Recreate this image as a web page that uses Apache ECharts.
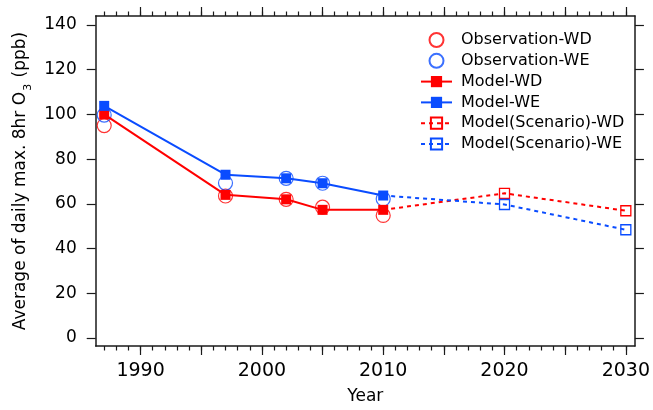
<!DOCTYPE html>
<html>
<head>
<meta charset="utf-8">
<script src="https://cdn.jsdelivr.net/npm/echarts@6/dist/echarts.min.js"></script>
<style>
  html, body { margin: 0; padding: 0; background: #fff; }
  #chart { width: 653px; height: 410px; }
</style>
</head>
<body>
<div id="chart"></div>
<script>
// Observed and modelled ozone, weekday (WD) vs weekend (WE)
const years = [1987, 1997, 2002, 2005, 2010];
const obsWD = [95, 63.5, 62, 58.5, 54.8];
const obsWE = [99.7, 69.3, 71.4, 69.2, 62.2];
const modelWD = [100, 64, 62, 57.3, 57.3];
const modelWE = [103.8, 73, 71.4, 69.2, 63.7];

const scenarioYears = [2010, 2020, 2030];
const scenarioWD = [57.3, 64.7, 56.9];
const scenarioWE = [63.7, 59.7, 48.4];

const xLabelYears = [1990, 2000, 2010, 2020, 2030];
const xMajorTicks = [1990, 1995, 2000, 2005, 2010, 2015, 2020, 2025, 2030];
const xMinorTicks = [];
for (let y = 1987; y <= 2030; y++) xMinorTicks.push(y);
const yTicks = [0, 20, 40, 60, 80, 100, 120, 140];

const RED = '#ff0000';
const BLUE = '#0a4cff';
const FONT = 'DejaVu Sans';
const AXIS_COLOR = '#1a1a1a';

const pairs = (xs, ys) => xs.map((x, i) => [x, ys[i]]);

function scenarioData(ys) {
  // first point joins the model curve; its marker is hidden
  return scenarioYears.map((x, i) =>
    i === 0 ? { value: [x, ys[i]], symbol: 'none' } : [x, ys[i]]);
}

const X_MIN = 1986.3, X_MAX = 2030.75;
const Y_MIN = -3.6, Y_MAX = 144;

function xAxis(position, ticks, len, showLine, showLabels) {
  return {
    type: 'value', position, min: X_MIN, max: X_MAX,
    splitLine: { show: false },
    axisLine: { show: showLine, onZero: false, lineStyle: { color: AXIS_COLOR, width: 1.5 } },
    axisTick: { show: true, customValues: ticks, length: len, lineStyle: { color: AXIS_COLOR, width: 1.2 } },
    axisLabel: showLabels
      ? { show: true, customValues: xLabelYears, formatter: v => String(v),
          margin: 16, fontSize: 19, fontFamily: FONT, color: '#000' }
      : { show: false }
  };
}

const option = {
  animation: false,
  backgroundColor: '#fff',
  grid: { left: 95.7, right: 17.3, top: 16, bottom: 62, containLabel: false },
  legend: {
    orient: 'vertical',
    left: 415,
    top: 27,
    itemWidth: 31,
    itemHeight: 14,
    itemGap: 4.8,
    textStyle: { fontSize: 16, fontFamily: FONT, color: '#000', lineHeight: 14, padding: [0, 0, 0, 4] },
    data: ['Observation-WD', 'Observation-WE', 'Model-WD', 'Model-WE',
           'Model(Scenario)-WD', 'Model(Scenario)-WE']
  },
  xAxis: [
    Object.assign(xAxis('bottom', xMajorTicks, 9, true, true), {
      name: 'Year', nameLocation: 'middle', nameGap: 42,
      nameTextStyle: { fontSize: 17, fontFamily: FONT, color: '#000' }
    }),
    xAxis('bottom', xMinorTicks, 4.5, false, false),
    xAxis('top', xMajorTicks, 9, true, false),
    xAxis('top', xMinorTicks, 4.5, false, false)
  ],
  yAxis: [
    {
      type: 'value', position: 'left', min: Y_MIN, max: Y_MAX,
      splitLine: { show: false },
      axisLine: { show: true, onZero: false, lineStyle: { color: AXIS_COLOR, width: 1.5 } },
      axisTick: { show: true, customValues: yTicks, length: 9, lineStyle: { color: AXIS_COLOR, width: 1.2 } },
      axisLabel: { customValues: yTicks, margin: 19, fontSize: 17, fontFamily: FONT, color: '#000' },
      name: 'Average of daily max. 8hr O{sub|3} (ppb)',
      nameLocation: 'middle',
      nameGap: 65,
      nameTextStyle: {
        fontSize: 17, fontFamily: FONT, color: '#000',
        rich: { sub: { fontSize: 11, fontFamily: FONT, color: '#000', verticalAlign: 'bottom', padding: [0, 1, -4, 1] } }
      }
    },
    {
      type: 'value', position: 'right', min: Y_MIN, max: Y_MAX,
      splitLine: { show: false },
      axisLine: { show: true, onZero: false, lineStyle: { color: AXIS_COLOR, width: 1.5 } },
      axisTick: { show: true, customValues: yTicks, length: 9, lineStyle: { color: AXIS_COLOR, width: 1.2 } },
      axisLabel: { show: false }
    }
  ],
  series: [
    {
      name: 'Observation-WD', type: 'scatter', z: 2,
      symbol: 'circle', symbolSize: 14,
      itemStyle: { color: 'transparent', borderColor: RED, borderWidth: 1.2 },
      data: pairs(years, obsWD)
    },
    {
      name: 'Observation-WE', type: 'scatter', z: 2,
      symbol: 'circle', symbolSize: 14,
      itemStyle: { color: 'transparent', borderColor: BLUE, borderWidth: 1.2 },
      data: pairs(years, obsWE)
    },
    {
      name: 'Model(Scenario)-WD', type: 'line', z: 3,
      symbol: 'rect', symbolSize: 10,
      lineStyle: { color: RED, width: 2, type: [4, 4] },
      itemStyle: { color: 'transparent', borderColor: RED, borderWidth: 1.3 },
      data: scenarioData(scenarioWD)
    },
    {
      name: 'Model(Scenario)-WE', type: 'line', z: 3,
      symbol: 'rect', symbolSize: 10,
      lineStyle: { color: BLUE, width: 2, type: [4, 4] },
      itemStyle: { color: 'transparent', borderColor: BLUE, borderWidth: 1.3 },
      data: scenarioData(scenarioWE)
    },
    {
      name: 'Model-WD', type: 'line', z: 4,
      symbol: 'rect', symbolSize: 10,
      lineStyle: { color: RED, width: 2 },
      itemStyle: { color: RED },
      data: pairs(years, modelWD)
    },
    {
      name: 'Model-WE', type: 'line', z: 4,
      symbol: 'rect', symbolSize: 10,
      lineStyle: { color: BLUE, width: 2 },
      itemStyle: { color: BLUE },
      data: pairs(years, modelWE)
    }
  ]
};

const chart = echarts.init(document.getElementById('chart'), null, { renderer: 'canvas' });
chart.setOption(option);
</script>
</body>
</html>
